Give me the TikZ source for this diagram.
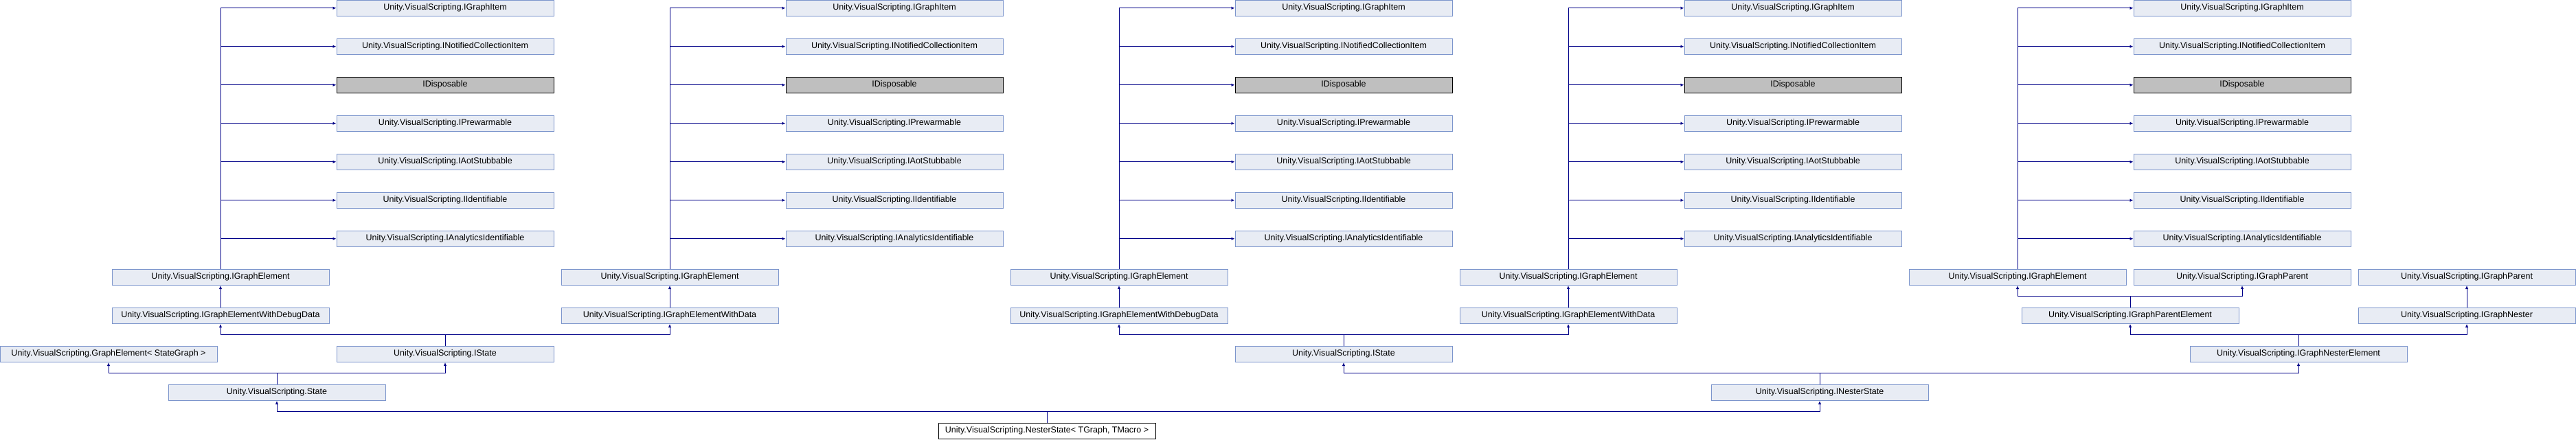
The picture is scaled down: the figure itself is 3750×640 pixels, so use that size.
\documentclass[tikz,border=0pt]{standalone}
\usepackage{fontspec}
\setmainfont{Liberation Sans}
\usepackage{xcolor}
\usepackage{tikz}
\usetikzlibrary{arrows.meta}

\definecolor{dxfill}{RGB}{232,236,244}
\definecolor{dxdraw}{RGB}{124,149,204}
\definecolor{dxline}{RGB}{0,0,136}
\definecolor{dxgray}{RGB}{191,191,191}

\begin{document}
\begin{tikzpicture}[
    x=1pt, y=-1pt,
    box/.style={rectangle, draw=dxdraw, fill=dxfill, line width=1pt, minimum width=316pt, minimum height=23.5pt, inner sep=0pt, font=\fontsize{12.5}{14}\selectfont},
    ext/.style={box, draw=black, fill=dxgray},
    mainbox/.style={box, draw=black, fill=white},
    arr/.style={-{Latex[length=5pt, width=4.5pt]}, line width=0.9pt, draw=dxline}
]
    \useasboundingbox (0,0) rectangle (3750,640);

    % Nhom A: IGraphElement -> IGraphElementWithDebugData
    \node[box] (itemA) at (648, 11.75) {Unity.VisualScripting.IGraphItem};
    \node[box] (notifA) at (648, 67.75) {Unity.VisualScripting.INotifiedCollectionItem};
    \node[ext] (dispA) at (648, 123.75) {IDisposable};
    \node[box] (prewA) at (648, 179.75) {Unity.VisualScripting.IPrewarmable};
    \node[box] (aotA) at (648, 235.75) {Unity.VisualScripting.IAotStubbable};
    \node[box] (identA) at (648, 291.75) {Unity.VisualScripting.IIdentifiable};
    \node[box] (analA) at (648, 347.75) {Unity.VisualScripting.IAnalyticsIdentifiable};
    \node[box] (elemA) at (321, 403.75) {Unity.VisualScripting.IGraphElement};
    \node[box] (debugA) at (321, 459.75) {Unity.VisualScripting.IGraphElementWithDebugData};

    \draw[arr] (elemA.north) |- (itemA.west);
    \draw[arr] (elemA.north |- notifA.west) -- (notifA.west);
    \draw[arr] (elemA.north |- dispA.west) -- (dispA.west);
    \draw[arr] (elemA.north |- prewA.west) -- (prewA.west);
    \draw[arr] (elemA.north |- aotA.west) -- (aotA.west);
    \draw[arr] (elemA.north |- identA.west) -- (identA.west);
    \draw[arr] (elemA.north |- analA.west) -- (analA.west);
    \draw[arr] (debugA) -- (elemA);

    % Nhom B: IGraphElement -> IGraphElementWithData
    \node[box] (itemB) at (1302, 11.75) {Unity.VisualScripting.IGraphItem};
    \node[box] (notifB) at (1302, 67.75) {Unity.VisualScripting.INotifiedCollectionItem};
    \node[ext] (dispB) at (1302, 123.75) {IDisposable};
    \node[box] (prewB) at (1302, 179.75) {Unity.VisualScripting.IPrewarmable};
    \node[box] (aotB) at (1302, 235.75) {Unity.VisualScripting.IAotStubbable};
    \node[box] (identB) at (1302, 291.75) {Unity.VisualScripting.IIdentifiable};
    \node[box] (analB) at (1302, 347.75) {Unity.VisualScripting.IAnalyticsIdentifiable};
    \node[box] (elemB) at (975, 403.75) {Unity.VisualScripting.IGraphElement};
    \node[box] (dataB) at (975, 459.75) {Unity.VisualScripting.IGraphElementWithData};

    \draw[arr] (elemB.north) |- (itemB.west);
    \draw[arr] (elemB.north |- notifB.west) -- (notifB.west);
    \draw[arr] (elemB.north |- dispB.west) -- (dispB.west);
    \draw[arr] (elemB.north |- prewB.west) -- (prewB.west);
    \draw[arr] (elemB.north |- aotB.west) -- (aotB.west);
    \draw[arr] (elemB.north |- identB.west) -- (identB.west);
    \draw[arr] (elemB.north |- analB.west) -- (analB.west);
    \draw[arr] (dataB) -- (elemB);

    % Nhom C: IGraphElement -> IGraphElementWithDebugData
    \node[box] (itemC) at (1956, 11.75) {Unity.VisualScripting.IGraphItem};
    \node[box] (notifC) at (1956, 67.75) {Unity.VisualScripting.INotifiedCollectionItem};
    \node[ext] (dispC) at (1956, 123.75) {IDisposable};
    \node[box] (prewC) at (1956, 179.75) {Unity.VisualScripting.IPrewarmable};
    \node[box] (aotC) at (1956, 235.75) {Unity.VisualScripting.IAotStubbable};
    \node[box] (identC) at (1956, 291.75) {Unity.VisualScripting.IIdentifiable};
    \node[box] (analC) at (1956, 347.75) {Unity.VisualScripting.IAnalyticsIdentifiable};
    \node[box] (elemC) at (1629, 403.75) {Unity.VisualScripting.IGraphElement};
    \node[box] (debugC) at (1629, 459.75) {Unity.VisualScripting.IGraphElementWithDebugData};

    \draw[arr] (elemC.north) |- (itemC.west);
    \draw[arr] (elemC.north |- notifC.west) -- (notifC.west);
    \draw[arr] (elemC.north |- dispC.west) -- (dispC.west);
    \draw[arr] (elemC.north |- prewC.west) -- (prewC.west);
    \draw[arr] (elemC.north |- aotC.west) -- (aotC.west);
    \draw[arr] (elemC.north |- identC.west) -- (identC.west);
    \draw[arr] (elemC.north |- analC.west) -- (analC.west);
    \draw[arr] (debugC) -- (elemC);

    % Nhom D: IGraphElement -> IGraphElementWithData
    \node[box] (itemD) at (2610, 11.75) {Unity.VisualScripting.IGraphItem};
    \node[box] (notifD) at (2610, 67.75) {Unity.VisualScripting.INotifiedCollectionItem};
    \node[ext] (dispD) at (2610, 123.75) {IDisposable};
    \node[box] (prewD) at (2610, 179.75) {Unity.VisualScripting.IPrewarmable};
    \node[box] (aotD) at (2610, 235.75) {Unity.VisualScripting.IAotStubbable};
    \node[box] (identD) at (2610, 291.75) {Unity.VisualScripting.IIdentifiable};
    \node[box] (analD) at (2610, 347.75) {Unity.VisualScripting.IAnalyticsIdentifiable};
    \node[box] (elemD) at (2283, 403.75) {Unity.VisualScripting.IGraphElement};
    \node[box] (dataD) at (2283, 459.75) {Unity.VisualScripting.IGraphElementWithData};

    \draw[arr] (elemD.north) |- (itemD.west);
    \draw[arr] (elemD.north |- notifD.west) -- (notifD.west);
    \draw[arr] (elemD.north |- dispD.west) -- (dispD.west);
    \draw[arr] (elemD.north |- prewD.west) -- (prewD.west);
    \draw[arr] (elemD.north |- aotD.west) -- (aotD.west);
    \draw[arr] (elemD.north |- identD.west) -- (identD.west);
    \draw[arr] (elemD.north |- analD.west) -- (analD.west);
    \draw[arr] (dataD) -- (elemD);

    % Nhom E: IGraphElement + IGraphParent -> IGraphParentElement
    \node[box] (itemE) at (3264, 11.75) {Unity.VisualScripting.IGraphItem};
    \node[box] (notifE) at (3264, 67.75) {Unity.VisualScripting.INotifiedCollectionItem};
    \node[ext] (dispE) at (3264, 123.75) {IDisposable};
    \node[box] (prewE) at (3264, 179.75) {Unity.VisualScripting.IPrewarmable};
    \node[box] (aotE) at (3264, 235.75) {Unity.VisualScripting.IAotStubbable};
    \node[box] (identE) at (3264, 291.75) {Unity.VisualScripting.IIdentifiable};
    \node[box] (analE) at (3264, 347.75) {Unity.VisualScripting.IAnalyticsIdentifiable};
    \node[box] (elemE) at (2937, 403.75) {Unity.VisualScripting.IGraphElement};
    \node[box] (parentE) at (3264, 403.75) {Unity.VisualScripting.IGraphParent};
    \node[box] (parentN) at (3591, 403.75) {Unity.VisualScripting.IGraphParent};
    \node[box] (parentElem) at (3101, 459.75) {Unity.VisualScripting.IGraphParentElement};
    \node[box] (nester) at (3591, 459.75) {Unity.VisualScripting.IGraphNester};

    \draw[arr] (elemE.north) |- (itemE.west);
    \draw[arr] (elemE.north |- notifE.west) -- (notifE.west);
    \draw[arr] (elemE.north |- dispE.west) -- (dispE.west);
    \draw[arr] (elemE.north |- prewE.west) -- (prewE.west);
    \draw[arr] (elemE.north |- aotE.west) -- (aotE.west);
    \draw[arr] (elemE.north |- identE.west) -- (identE.west);
    \draw[arr] (elemE.north |- analE.west) -- (analE.west);
    \draw[arr] (parentElem.north) -- ++(0,-16) -| (elemE.south);
    \draw[arr] (parentElem.north) ++(0,-16) -| (parentE.south);
    \draw[arr] (nester) -- (parentN);

    % Cac lop phia duoi (y = 515.75 .. 627.75)
    \node[box] (graphElemSG) at (158, 515.75) {Unity.VisualScripting.GraphElement< StateGraph >};
    \node[box] (istateA) at (648, 515.75) {Unity.VisualScripting.IState};
    \node[box] (istateC) at (1956, 515.75) {Unity.VisualScripting.IState};
    \node[box] (nesterElem) at (3346, 515.75) {Unity.VisualScripting.IGraphNesterElement};
    \node[box] (state) at (403, 571.75) {Unity.VisualScripting.State};
    \node[box] (inesterState) at (2649, 571.75) {Unity.VisualScripting.INesterState};
    \node[mainbox] (nesterState) at (1524, 627.75) {Unity.VisualScripting.NesterState< TGraph, TMacro >};

    \draw[arr] (istateA.north) -- ++(0,-16) -| (debugA.south);
    \draw[arr] (istateA.north) ++(0,-16) -| (dataB.south);
    \draw[arr] (istateC.north) -- ++(0,-16) -| (debugC.south);
    \draw[arr] (istateC.north) ++(0,-16) -| (dataD.south);
    \draw[arr] (nesterElem.north) -- ++(0,-16) -| (parentElem.south);
    \draw[arr] (nesterElem.north) ++(0,-16) -| (nester.south);
    \draw[arr] (state.north) -- ++(0,-16) -| (graphElemSG.south);
    \draw[arr] (state.north) ++(0,-16) -| (istateA.south);
    \draw[arr] (inesterState.north) -- ++(0,-16) -| (istateC.south);
    \draw[arr] (inesterState.north) ++(0,-16) -| (nesterElem.south);
    \draw[arr] (nesterState.north) -- ++(0,-16) -| (state.south);
    \draw[arr] (nesterState.north) ++(0,-16) -| (inesterState.south);
\end{tikzpicture}
\end{document}
